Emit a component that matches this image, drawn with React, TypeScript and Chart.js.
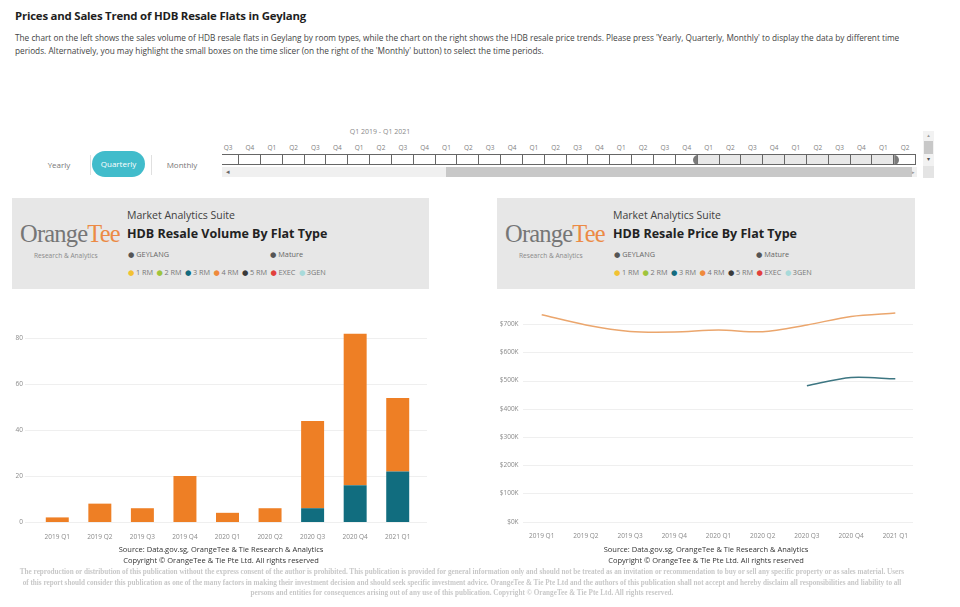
import React, { useEffect, useRef } from "react";
import { Chart, registerables } from "chart.js";

Chart.register(...registerables);

const quarters = ["2019 Q1", "2019 Q2", "2019 Q3", "2019 Q4", "2020 Q1", "2020 Q2", "2020 Q3", "2020 Q4", "2021 Q1"];
const volume3RM = [0, 0, 0, 0, 0, 0, 6, 16, 22];
const volume4RM = [2, 8, 6, 20, 4, 6, 38, 66, 32];
const price4RM = [733000, 697000, 674000, 672000, 679000, 673000, 697000, 727000, 739000];
const price3RM = [null, null, null, null, null, null, 482000, 511000, 506000];
const volumeTicks = [0, 20, 40, 60, 80];
const priceTicks = [0, 100000, 200000, 300000, 400000, 500000, 600000, 700000];
const slicerLabels = ["Q3", "Q4", "Q1", "Q2"];
const legendItems = [
  { label: "1 RM", color: "#f2c232" },
  { label: "2 RM", color: "#9fc43c" },
  { label: "3 RM", color: "#136b7e" },
  { label: "4 RM", color: "#ef8a3c" },
  { label: "5 RM", color: "#3a3a3a" },
  { label: "EXEC", color: "#e2403c" },
  { label: "3GEN", color: "#a8dada" },
];

const FONT = "'Open Sans', 'DejaVu Sans', sans-serif";

const extGrid = {
  id: "extGrid",
  beforeDatasetsDraw(chart: any, _args: any, opts: any) {
    const y = chart.scales.y;
    const ctx = chart.ctx;
    ctx.save();
    ctx.strokeStyle = opts.color || "#eeeeee";
    ctx.lineWidth = 1;
    y.ticks.forEach((t: any) => {
      const py = Math.round(y.getPixelForValue(t.value)) + 0.5;
      ctx.beginPath();
      ctx.moveTo(opts.x1, py);
      ctx.lineTo(opts.x2, py);
      ctx.stroke();
    });
    ctx.restore();
  },
};

function VolumeChart() {
  const ref = useRef<HTMLCanvasElement>(null);
  useEffect(() => {
    const chart = new Chart(ref.current!, {
      type: "bar",
      data: {
        labels: quarters,
        datasets: [
          { label: "3 RM", data: volume3RM, backgroundColor: "#116d7f", categoryPercentage: 1, barPercentage: 0.54 },
          { label: "4 RM", data: volume4RM, backgroundColor: "#ee7f25", categoryPercentage: 1, barPercentage: 0.54 },
        ],
      },
      options: {
        animation: false,
        responsive: false,
        layout: { padding: { top: 15, right: 21, left: 0, bottom: 0 } },
        plugins: { legend: { display: false }, tooltip: { enabled: false }, extGrid: { x1: 25, x2: 427, color: "#efefef" } } as any,
        scales: {
          x: {
            stacked: true,
            grid: { display: false },
            border: { display: false },
            ticks: { color: "#8a8a8a", font: { size: 6.5, family: FONT }, padding: 3, maxRotation: 0 },
            afterFit: (s: any) => { s.height = 23; },
          },
          y: {
            stacked: true,
            min: 0,
            max: 85,
            grid: { display: false, drawTicks: false },
            border: { display: false },
            afterBuildTicks: (s: any) => { s.ticks = volumeTicks.map((v) => ({ value: v })); },
            ticks: { color: "#8a8a8a", font: { size: 6.5, family: FONT }, padding: 13 },
            afterFit: (s: any) => { s.width = 36; },
          },
        },
      },
      plugins: [extGrid],
    });
    return () => chart.destroy();
  }, []);
  return <canvas ref={ref} width={440} height={235} style={{ position: "absolute", left: 0, top: 310, width: 440, height: 235 }} />;
}

function PriceChart() {
  const ref = useRef<HTMLCanvasElement>(null);
  useEffect(() => {
    const chart = new Chart(ref.current!, {
      type: "line",
      data: {
        labels: quarters,
        datasets: [
          { label: "4 RM", data: price4RM, borderColor: "#eba66d", borderWidth: 1.5, pointRadius: 0, tension: 0.3, spanGaps: false },
          { label: "3 RM", data: price3RM, borderColor: "#3d7682", borderWidth: 1.5, pointRadius: 0, tension: 0.3, spanGaps: false },
        ],
      },
      options: {
        animation: false,
        responsive: false,
        layout: { padding: { top: 10, right: 2.6, left: 0, bottom: 0 } },
        plugins: { legend: { display: false }, tooltip: { enabled: false }, extGrid: { x1: 43, x2: 433, color: "#efefef" } } as any,
        scales: {
          x: {
            offset: true,
            grid: { display: false },
            border: { display: false },
            ticks: { color: "#8a8a8a", font: { size: 6.5, family: FONT }, padding: 3, maxRotation: 0 },
            afterFit: (s: any) => { s.height = 23.3; },
          },
          y: {
            min: 0,
            max: 750000,
            grid: { display: false, drawTicks: false },
            border: { display: false },
            afterBuildTicks: (s: any) => { s.ticks = priceTicks.map((v) => ({ value: v })); },
            ticks: {
              color: "#8a8a8a",
              font: { size: 6.5, family: FONT },
              padding: 1,
              callback: (v: any) => "$" + Math.round(Number(v) / 1000) + "K",
            },
            afterFit: (s: any) => { s.width = 39.6; },
          },
        },
      },
      plugins: [extGrid],
    });
    return () => chart.destroy();
  }, []);
  return <canvas ref={ref} width={440} height={245} style={{ position: "absolute", left: 480, top: 300, width: 440, height: 245 }} />;
}

function Header({ left, width, title, textX }: { left: number; width: number; title: string; textX: number }) {
  return (
    <div style={{ position: "absolute", left, top: 198, width, height: 91, background: "#e7e7e7" }}>
      <div style={{ position: "absolute", left: 8, top: 21, fontFamily: "'Liberation Serif', 'DejaVu Serif', serif", fontSize: 24.5, letterSpacing: -0.8, lineHeight: "30px", whiteSpace: "nowrap" }}>
        <span style={{ color: "#767676" }}>Orange</span>
        <span style={{ color: "#ec8a45" }}>Tee</span>
      </div>
      <div style={{ position: "absolute", left: 22, top: 53, fontSize: 6.6, color: "#8a8a8a", fontFamily: FONT, whiteSpace: "nowrap" }}>Research &amp; Analytics</div>
      <div style={{ position: "absolute", left: textX, top: 10, fontSize: 10.5, color: "#404040", fontFamily: FONT, whiteSpace: "nowrap" }}>Market Analytics Suite</div>
      <div style={{ position: "absolute", left: textX, top: 27, fontSize: 12.5, fontWeight: 700, color: "#222", fontFamily: FONT, whiteSpace: "nowrap" }}>{title}</div>
      <div style={{ position: "absolute", left: textX + 1, top: 51, fontSize: 7.3, color: "#666", fontFamily: FONT, whiteSpace: "nowrap" }}>
        <span style={{ color: "#555" }}>●</span> GEYLANG
      </div>
      <div style={{ position: "absolute", left: textX + 143, top: 51, fontSize: 7.3, color: "#666", fontFamily: FONT, whiteSpace: "nowrap" }}>
        <span style={{ color: "#555" }}>●</span> Mature
      </div>
      <div style={{ position: "absolute", left: textX + 1, top: 69, fontSize: 7.3, color: "#777", fontFamily: FONT, whiteSpace: "nowrap" }}>
        {legendItems.map((it) => (
          <span key={it.label} style={{ marginRight: 3.5 }}>
            <span style={{ color: it.color, marginRight: 1.5 }}>●</span>
            {it.label}
          </span>
        ))}
      </div>
    </div>
  );
}

function Slicer() {
  const cellW = 21.84;
  const startX = -4.8;
  const cells = Array.from({ length: 32 }, (_, i) => i);
  const selFrom = 22;
  const selTo = 30;
  return (
    <>
      <div style={{ position: "absolute", left: 330, top: 127, width: 100, textAlign: "center", fontSize: 7, color: "#8a8a8a", fontFamily: FONT }}>Q1 2019 - Q1 2021</div>
      <div style={{ position: "absolute", left: 222, top: 140, width: 695, height: 40, overflow: "hidden" }}>
        {cells.map((i) => (
          <div key={"l" + i} style={{ position: "absolute", left: startX + i * cellW, top: 3, width: cellW, textAlign: "center", fontSize: 6.5, color: "#808080", fontFamily: FONT }}>
            {slicerLabels[i % 4]}
          </div>
        ))}
        {cells.map((i) => (
          <div
            key={"c" + i}
            style={{
              position: "absolute",
              left: startX + i * cellW,
              top: 14,
              width: cellW,
              height: 11,
              boxSizing: "border-box",
              borderTop: "1px solid #666",
              borderBottom: "1px solid #666",
              borderRight: "1px solid #666",
              background: i >= selFrom && i <= selTo ? "#e8e8e8" : "#ffffff",
            }}
          />
        ))}
        <div style={{ position: "absolute", left: startX + selFrom * cellW - 5, top: 14.5, width: 10, height: 10 }}>
          <div style={{ position: "absolute", left: 0, top: 0, width: 10, height: 10, borderRadius: "50%", background: "#7a7a7a", clipPath: "inset(0 5px 0 0)" }} />
        </div>
        <div style={{ position: "absolute", left: startX + (selTo + 1) * cellW - 5, top: 14.5, width: 10, height: 10 }}>
          <div style={{ position: "absolute", left: 0, top: 0, width: 10, height: 10, borderRadius: "50%", background: "#7a7a7a", clipPath: "inset(0 0 0 5px)" }} />
        </div>
        <div style={{ position: "absolute", left: 0, top: 27, width: 695, height: 10, background: "#f0f0f0" }} />
        <div style={{ position: "absolute", left: 224, top: 27, width: 466, height: 10, background: "#c8c8c8" }} />
        <div style={{ position: "absolute", left: 4, top: 27, fontSize: 7, lineHeight: "10px", color: "#666" }}>◂</div>
        <div style={{ position: "absolute", left: 690, top: 27, fontSize: 5, lineHeight: "10px", color: "#999" }}>▸</div>
      </div>
      <div style={{ position: "absolute", left: 923, top: 131, width: 11, height: 47, background: "#f2f2f2" }} />
      <div style={{ position: "absolute", left: 924, top: 141, width: 9, height: 13, background: "#c8c8c8" }} />
      <div style={{ position: "absolute", left: 923, top: 131, width: 11, fontSize: 5, textAlign: "center", color: "#999", lineHeight: "9px" }}>▴</div>
      <div style={{ position: "absolute", left: 923, top: 155, width: 11, fontSize: 6, textAlign: "center", color: "#555", lineHeight: "9px" }}>▾</div>
      <div style={{ position: "absolute", left: 923, top: 166, width: 11, height: 12, background: "#e4e4e4" }} />
    </>
  );
}

export default function App() {
  const disclaimer = [
    "The reproduction or distribution of this publication without the express consent of the author is prohibited. This publication is provided for general information only and should not be treated as an invitation or recommendation to buy or sell any specific property or as sales material. Users",
    "of this report should consider this publication as one of the many factors in making their investment decision and should seek specific investment advice. OrangeTee & Tie Pte Ltd and the authors of this publication shall not accept and hereby disclaim all responsibilities and liability to all",
    "persons and entities for consequences arising out of any use of this publication.  Copyright © OrangeTee & Tie Pte Ltd. All rights reserved.",
  ];
  return (
    <div style={{ position: "absolute", left: 0, top: 0, width: 960, height: 607, background: "#ffffff", overflow: "hidden", fontFamily: FONT }}>
      <div style={{ position: "absolute", left: 15, top: 8, fontSize: 11.4, fontWeight: 700, color: "#1e1e1e", whiteSpace: "nowrap", letterSpacing: -0.2 }}>
        Prices and Sales Trend of HDB Resale Flats in Geylang
      </div>
      <div style={{ position: "absolute", left: 15, top: 31, fontSize: 8.25, color: "#444", lineHeight: "13px", whiteSpace: "nowrap" }}>
        The chart on the left shows the sales volume of HDB resale flats in Geylang by room types, while the chart on the right shows the HDB resale price trends. Please press 'Yearly, Quarterly, Monthly' to display the data by different time
        <br />
        periods. Alternatively, you may highlight the small boxes on the time slicer (on the right of the 'Monthly' button) to select the time periods.
      </div>

      <div style={{ position: "absolute", left: 39, top: 159, width: 40, textAlign: "center", fontSize: 8, color: "#777" }}>Yearly</div>
      <div style={{ position: "absolute", left: 90, top: 155, width: 1, height: 20, background: "#e0e0e0" }} />
      <div style={{ position: "absolute", left: 92, top: 151, width: 53, height: 26, borderRadius: 13, background: "#41bccb", color: "#fff", fontSize: 8, textAlign: "center", lineHeight: "26px" }}>Quarterly</div>
      <div style={{ position: "absolute", left: 151, top: 155, width: 1, height: 20, background: "#e0e0e0" }} />
      <div style={{ position: "absolute", left: 160, top: 159, width: 44, textAlign: "center", fontSize: 8, color: "#777" }}>Monthly</div>

      <Slicer />

      <Header left={12} width={417} title="HDB Resale Volume By Flat Type" textX={115} />
      <Header left={497} width={418} title="HDB Resale Price By Flat Type" textX={116} />

      <VolumeChart />
      <PriceChart />

      <div style={{ position: "absolute", left: 0, top: 544, width: 442, textAlign: "center", fontSize: 7.5, color: "#333", lineHeight: "11px" }}>
        Source: Data.gov.sg, OrangeTee &amp; Tie Research &amp; Analytics
        <br />
        Copyright © OrangeTee &amp; Tie Pte Ltd. All rights reserved
      </div>
      <div style={{ position: "absolute", left: 485, top: 544, width: 442, textAlign: "center", fontSize: 7.5, color: "#333", lineHeight: "11px" }}>
        Source: Data.gov.sg, OrangeTee &amp; Tie Research &amp; Analytics
        <br />
        Copyright © OrangeTee &amp; Tie Pte Ltd. All rights reserved
      </div>
      <div style={{ position: "absolute", left: -18, top: 567, width: 960, textAlign: "center", fontSize: 7.2, color: "#c8c8c8", lineHeight: "10.5px", fontFamily: "'Liberation Serif', serif", fontWeight: 700 }}>
        {disclaimer.map((l, i) => (
          <div key={i} style={{ whiteSpace: "nowrap" }}>{l}</div>
        ))}
      </div>
    </div>
  );
}
